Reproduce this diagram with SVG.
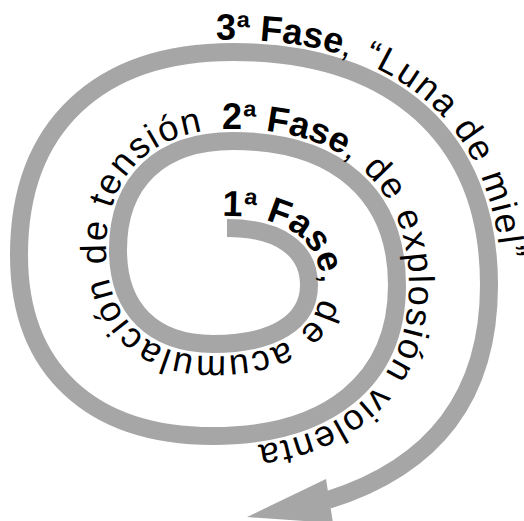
<svg xmlns="http://www.w3.org/2000/svg" width="524" height="521" viewBox="0 0 524 521">
  <style>
    .spiral { fill: none; stroke: #a6a6a6; stroke-width: 18; stroke-linecap: butt; }
    .head { fill: #a6a6a6; }
    .lbl { font-family: "Liberation Sans", Arial, sans-serif; font-size: 36px; fill: #000; }
    .b { font-weight: bold; letter-spacing: 0; }
    .r { letter-spacing: 1.8px; }
  </style>
  <defs>
    <path id="t1" d="M200,216 L227,216 C286.2,216 321,241.5 321,285 C321,329.7 281,356 213,356 C145.6,356 106,316.8 106,250 C106,173.8 153,129 233,129"/>
    <path id="t2" d="M200,129 L233,129 C343.9,129 409,186.7 409,285 C409,387.7 336.5,448 213,448 C160,448 120,440 100,430"/>
    <path id="t3" d="M200,40 L233,40 C401.8,40 501,130.6 501,285 C501,330 495,360 480,390"/>
  </defs>
  <g id="connectors">
    <path class="spiral" d="M227,228 C278.7,228 309,249.1 309,285 C309,322.2 273.5,344 213,344 C153.1,344 118,309.2 118,250 C118,181.3 160.5,141 233,141 C336.3,141 397,194.3 397,285 C397,380.1 328.9,436 213,436 C90.8,436 19,369 19,255 C19,127.1 98.2,52 233,52 C394.3,52 489,138.2 489,285 C489,390 440,465 328,500"/>
    <polygon class="head" points="247,517 326,479 333,523"/>
  </g>
  <g id="fase1">
    <text class="lbl"><textPath href="#t1" startOffset="22"><tspan class="b">1ª Fase</tspan><tspan class="r">, de acumulación de tensión</tspan></textPath></text>
  </g>
  <g id="fase2">
    <text class="lbl"><textPath href="#t2" startOffset="22"><tspan class="b">2ª Fase</tspan><tspan class="r">, de explosión violenta</tspan></textPath></text>
  </g>
  <g id="fase3">
    <text class="lbl"><textPath href="#t3" startOffset="16"><tspan class="b">3ª Fase</tspan><tspan class="r">, “Luna de miel”</tspan></textPath></text>
  </g>
</svg>
